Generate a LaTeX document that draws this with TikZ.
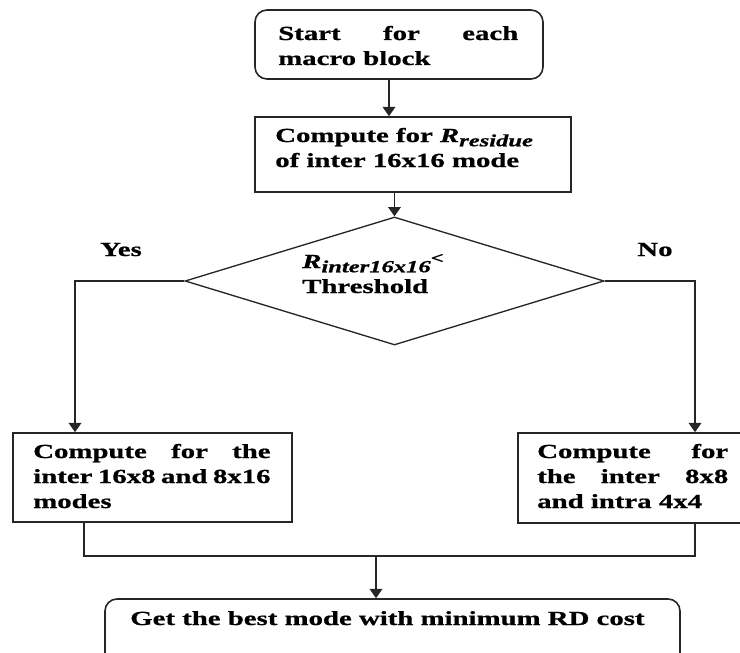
\documentclass[tikz,border=0pt]{standalone}
\usepackage{fontspec}
\setmainfont{Liberation Serif}[FakeStretch=1.44, BoldFeatures={FakeBold=0.8}, BoldItalicFeatures={FakeBold=0.8}]
\usetikzlibrary{shapes.geometric,arrows.meta}

\tikzset{
  edge/.style={draw=black!85, line width=1.2pt},
  arr/.style={edge, -{Triangle[width=9.5pt,length=7pt]}},
  sqbox/.style={draw=black!85, line width=1.2pt, rectangle, inner sep=0pt},
  rbox/.style={sqbox, rounded corners=9pt},
  decision/.style={draw=black!85, line width=1pt, diamond, inner sep=0pt},
  txt/.style={inner sep=0pt, anchor=base west, font=\bfseries\fontsize{15pt}{18.75pt}\selectfont}
}
\newcommand{\lines}[2]{\parbox[t]{#1}{\setlength{\baselineskip}{18.75pt}\setlength{\parindent}{0pt}#2}}
\newcommand{\subtext}[1]{\raisebox{-3.2pt}{\fontsize{12.8pt}{14pt}\selectfont\bfseries\itshape #1}}

\begin{document}
\begin{tikzpicture}[x=0.75pt, y=-0.75pt]
  \useasboundingbox (0,0) rectangle (740,653);
  \clip (0,0) rectangle (740,653);

  % boxes
  \node[rbox, minimum width=216pt, minimum height=51.75pt] (start) at (399,44.5) {};
  \node[sqbox, minimum width=237pt, minimum height=56.25pt] (comp) at (413,154.5) {};
  \node[decision, minimum width=314.25pt, minimum height=96pt] (dia) at (394.5,281) {};
  \node[sqbox, minimum width=209.25pt, minimum height=66.75pt] (lbox) at (152.5,477.5) {};
  \node[sqbox, minimum width=170.25pt, minimum height=67.5pt] (rbox) at (631.5,478) {};
  \node[rbox, minimum width=431.25pt, minimum height=53.25pt] (best) at (392.5,634.5) {};

  % texts
  \node[txt] (tstart) at (278,40) {\lines{180pt}{Start\hfill for\hfill each\\macro block}};
  \node[txt] (tcomp) at (275,142) {\lines{230pt}{Compute for {\itshape R}\subtext{residue}\\of inter 16x16 mode}};
  \node[txt] (tdia) at (302,268) {\lines{170pt}{{\itshape R}\subtext{inter16x16}\raisebox{3.5pt}{\fontsize{12pt}{12pt}\selectfont<}\\Threshold}};
  \node[txt] (tl) at (33,458) {\lines{178pt}{Compute\hfill for\hfill the\\inter\hfill 16x8\hfill and\hfill 8x16\\modes}};
  \node[txt] (tr) at (537,458) {\lines{143.25pt}{Compute\hfill for\\the\hfill inter\hfill 8x8\\and intra 4x4}};
  \node[txt] (tbest) at (130,625) {Get the best mode with minimum RD cost};
  \node[txt, anchor=base] (yes) at (121,256) {Yes};
  \node[txt, anchor=base] (no) at (655,256) {No};

  % connector columns and rows
  \coordinate (c1) at (389,0);
  \coordinate (lx) at (75,0);
  \coordinate (rx) at (695,0);
  \coordinate (lout) at (84,0);
  \coordinate (mx) at (376,0);
  \coordinate (join) at (0,556);

  % connectors
  \draw[arr] (c1 |- start.south) -- (c1 |- comp.north);
  \draw[arr] (dia.north |- comp.south) -- (dia.north);
  \draw[arr] (dia.west) -| (lx |- lbox.north);
  \draw[arr] (dia.east) -| (rx |- rbox.north);
  \draw[edge] (lout |- lbox.south) |- (rx |- join) -- (rx |- rbox.south);
  \draw[arr] (mx |- join) -- (mx |- best.north);
\end{tikzpicture}
\end{document}
